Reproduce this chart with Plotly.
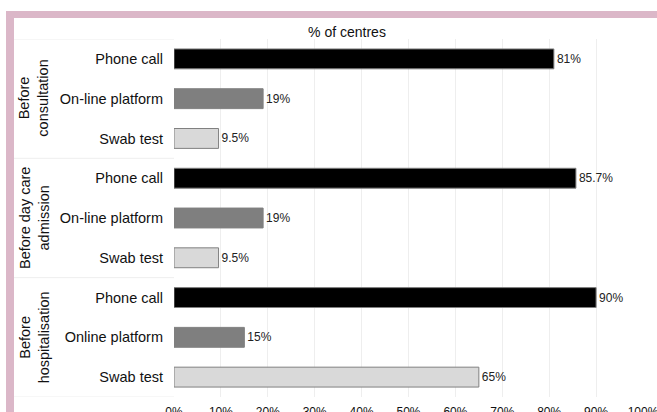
import plotly.graph_objects as go

# data
groups = ["Before<br>consultation", "Before day care<br>admission", "Before<br>hospitalisation"]
methods_consult = ["Phone call", "On-line platform", "Swab test"]
methods_daycare = ["Phone call", "On-line platform", "Swab test"]
methods_hosp = ["Phone call", "Online platform", "Swab test"]
values_consult = [81, 19, 9.5]
values_daycare = [85.7, 19, 9.5]
values_hosp = [90, 15, 65]
labels_consult = ["81%", "19%", "9.5%"]
labels_daycare = ["85.7%", "19%", "9.5%"]
labels_hosp = ["90%", "15%", "65%"]
method_colors = ["#000000", "#7f7f7f", "#d9d9d9"]
x_ticks = [0, 10, 20, 30, 40, 50, 60, 70, 80, 90, 100]

W, H = 657, 412
L, R, T, B = 174, 14, 39, 15
PW, PH = W - L - R, H - T - B


def px_x(p):
    return (p - L) / PW


def px_y(p):
    return (H - B - p) / PH


methods = methods_consult + methods_daycare + methods_hosp
values = values_consult + values_daycare + values_hosp
labels = labels_consult + labels_daycare + labels_hosp
colors = method_colors * 3
pos = list(range(len(methods)))

FONT = "Liberation Sans, Arial, sans-serif"

fig = go.Figure()
fig.add_trace(go.Bar(
    x=values, y=pos, orientation="h", width=0.5,
    marker=dict(color=colors, line=dict(color="#808080", width=1)),
    text=labels, textposition="outside", cliponaxis=False,
    textfont=dict(size=12, color="#222222", family=FONT),
    showlegend=False, hoverinfo="skip",
))

shapes = []
# pink frame top and left
shapes.append(dict(type="rect", xref="paper", yref="paper", layer="below",
                   x0=px_x(6), x1=px_x(W + 2), y0=px_y(18), y1=px_y(11),
                   fillcolor="#dbb7c8", line=dict(width=0)))
shapes.append(dict(type="rect", xref="paper", yref="paper", layer="below",
                   x0=px_x(6), x1=px_x(14), y0=px_y(H + 2), y1=px_y(11),
                   fillcolor="#dbb7c8", line=dict(width=0)))
# group dividers in the label panel
n = len(methods_consult)
for k in range(len(groups) + 1):
    yb = k * n - 0.5
    shapes.append(dict(type="line", xref="paper", yref="y",
                       x0=px_x(14), x1=0, y0=yb, y1=yb,
                       line=dict(color="#eeeeee", width=1)))

annotations = []
for k, g in enumerate(groups):
    annotations.append(dict(text=g, xref="paper", yref="y",
                            x=px_x(34), y=k * n + (n - 1) / 2,
                            textangle=-90, showarrow=False,
                            font=dict(size=14.5, color="#111111", family=FONT),
                            xanchor="center", yanchor="middle"))

fig.update_layout(
    width=W, height=H,
    margin=dict(l=L, r=R, t=T, b=B),
    paper_bgcolor="white", plot_bgcolor="white",
    font=dict(family=FONT, color="#111111"),
    title=dict(text="% of centres", xref="container", yref="container",
               x=347 / W, y=1 - 32 / H, xanchor="center", yanchor="middle",
               font=dict(size=14, color="#111111", family=FONT)),
    xaxis=dict(range=[0, 100], tickvals=x_ticks,
               ticktext=[f"{v}%" for v in x_ticks],
               showgrid=True, gridcolor="#eeeeee", zeroline=False,
               showline=False, ticks="", ticklabelstandoff=6,
               automargin=False, ticklabeloverflow="allow",
               tickfont=dict(size=12, color="#111111")),
    yaxis=dict(tickvals=pos, ticktext=methods, range=[len(pos) - 0.5, -0.5],
               showgrid=False, zeroline=False, showline=False, ticks="",
               ticklabelstandoff=10, automargin=False,
               tickfont=dict(size=14.5, color="#111111")),
    shapes=shapes, annotations=annotations,
    bargap=0.5,
)

fig.write_html("out.html", config={"displayModeBar": False},
               post_script="document.body.style.margin='0px';")
